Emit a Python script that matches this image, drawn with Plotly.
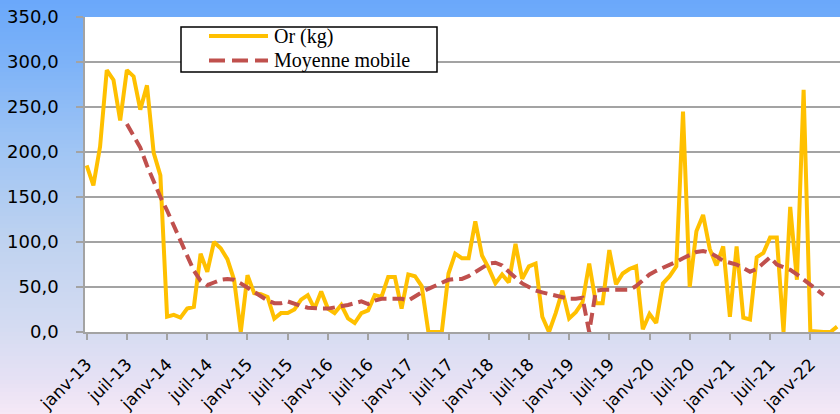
import plotly.graph_objects as go

# ---------------- data ----------------
month_abbr = ["janv", "févr", "mars", "avr", "mai", "juin",
              "juil", "août", "sept", "oct", "nov", "déc"]
n_months = 113  # janv-13 .. mai-22
months = [f"{month_abbr[k % 12]}-{13 + k // 12:02d}" for k in range(n_months)]

or_kg = [185, 163, 206, 291, 280, 235, 291, 284, 247, 274, 199, 174,
         17, 19, 16, 26, 28, 87, 67, 100, 93, 81, 58, 0,
         63, 43, 42, 39, 15, 21, 21, 25, 36, 41, 26, 45,
         26, 21, 30, 15, 10, 21, 24, 41, 39, 61, 61, 26,
         64, 62, 51, 0, 0, 0, 65, 87, 82, 82, 123, 85,
         71, 54, 64, 55, 98, 59, 73, 76, 17, 0, 21, 46,
         15, 22, 33, 76, 32, 32, 91, 53, 65, 70, 73, 3,
         20, 10, 54, 62, 73, 245, 50, 112, 130, 92, 74, 95,
         17, 95, 16, 14, 83, 88, 105, 105, 0, 139, 58, 269,
         1, 0, 0, 0, 6]

moyenne_mobile = ([None] * 6 +
                  [231, 219, 205, 185, 166, 150, 135, 118, 101, 83, 68, 57,
                   52, 55, 58, 59, 58, 54, 49, 44, 39, 35, 32, 32, 34, 31,
                   29, 27, 26, 26, 26, 27, 28, 30, 32, 34, 31, 35, 37, 37,
                   38, 37, 35, 40, 44, 48, 51, 55, 58, 59, 59, 62, 67, 72,
                   76, 77, 74, 67, 61, 54, 50, 46, 44, 42, 40, 38, 37, 37,
                   38, 0, 46, 47, 47, 47, 47, 47, 51, 57, 64, 68, 71, 75,
                   78, 82, 86, 89, 90, 88, 84, 79, 77, 75, 71, 67, 70, 76,
                   83, 75, 72, 69, 64, 58, 52, 46, 41] +
                  [None] * 2)

series_names = ["Or (kg)", "Moyenne mobile"]
y_ticks = [0, 50, 100, 150, 200, 250, 300, 350]

x_idx = list(range(n_months))
tick_idx = x_idx[::6]
tick_txt = months[::6]

GOLD = "#FFC000"
RED = "#C0504D"
GRID = "#a3a3a3"

fig = go.Figure()
fig.add_trace(go.Scatter(x=x_idx, y=or_kg, mode="lines", name=series_names[0],
                         line=dict(color=GOLD, width=4), cliponaxis=False,
                         showlegend=False))
fig.add_trace(go.Scatter(x=x_idx, y=moyenne_mobile, mode="lines", name=series_names[1],
                         line=dict(color=RED, width=4, dash="12px,6px"),
                         connectgaps=False, cliponaxis=False, showlegend=False))

# ---------------- background gradient ----------------
W, H = 840, 414
L, R, T, B = 85, 0, 17, 82
plot_h = H - T - B
plot_w = W - L - R
stops = [(0, (106, 168, 250)), (60, (124, 178, 248)), (150, (160, 197, 244)),
         (240, (190, 210, 240)), (332, (214, 220, 242)), (380, (230, 225, 244)),
         (414, (246, 233, 246))]


def col_at(y):
    for (y0, c0), (y1, c1) in zip(stops[:-1], stops[1:]):
        if y0 <= y <= y1:
            t = (y - y0) / (y1 - y0)
            return "rgb(%d,%d,%d)" % tuple(round(a + (b - a) * t) for a, b in zip(c0, c1))
    return "rgb(%d,%d,%d)" % stops[-1][1]


def py(ypx):
    return (H - B - ypx) / plot_h


def px(xpx):
    return (xpx - L) / plot_w


shapes = []
step = 4
for y in range(0, H, step):
    shapes.append(dict(type="rect", xref="paper", yref="paper",
                       x0=px(-5), x1=px(W + 5), y0=py(y + step + 0.5), y1=py(y),
                       fillcolor=col_at(y + step / 2), line=dict(width=0), layer="below"))
shapes.append(dict(type="rect", xref="paper", yref="paper", x0=0, x1=1, y0=0, y1=1,
                   fillcolor="white", line=dict(width=0), layer="below"))

# legend box (drawn manually)
shapes.append(dict(type="rect", xref="paper", yref="paper",
                   x0=px(181), x1=px(437), y0=py(72), y1=py(27),
                   fillcolor="white", line=dict(color="black", width=1.5), layer="above"))
shapes.append(dict(type="line", xref="paper", yref="paper",
                   x0=px(209), x1=px(268), y0=py(36), y1=py(36),
                   line=dict(color=GOLD, width=4), layer="above"))
shapes.append(dict(type="line", xref="paper", yref="paper",
                   x0=px(209), x1=px(268), y0=py(60.5), y1=py(60.5),
                   line=dict(color=RED, width=4, dash="16px,7px"), layer="above"))

LEG_FONT = dict(family="Liberation Serif, Times New Roman, serif", size=20, color="black")
annotations = [
    dict(text=series_names[0], xref="paper", yref="paper", x=px(272), y=py(36),
         xanchor="left", yanchor="middle", showarrow=False, font=LEG_FONT),
    dict(text=series_names[1], xref="paper", yref="paper", x=px(272), y=py(60.5),
         xanchor="left", yanchor="middle", showarrow=False, font=LEG_FONT),
]

fig.update_layout(
    width=W, height=H,
    margin=dict(l=L, r=R, t=T, b=B, pad=0, autoexpand=False),
    paper_bgcolor="rgb(200,212,242)",
    plot_bgcolor="white",
    separators=", ",
    showlegend=False,
    shapes=shapes,
    annotations=annotations,
    xaxis=dict(range=[-0.25, 112.43], tickmode="array", tickvals=tick_idx,
               ticktext=tick_txt, tickangle=-45, ticks="outside", ticklen=6,
               tickcolor=GRID, tickwidth=1.5, showline=True, linecolor=GRID,
               linewidth=1.5, showgrid=False, zeroline=False, automargin=False,
               ticklabelstandoff=8,
               tickfont=dict(family="DejaVu Sans", size=17, color="black")),
    yaxis=dict(range=[0, 350], tickmode="array", tickvals=y_ticks,
               tickformat=".1f", ticks="outside", ticklen=7, tickcolor=GRID,
               tickwidth=1.5, showline=True, linecolor=GRID, linewidth=1.5,
               gridcolor=GRID, gridwidth=1.5, zeroline=False, automargin=False,
               ticklabelstandoff=14,
               tickfont=dict(family="DejaVu Sans", size=18, color="black")),
)

fig.write_html("out.html", config={"displayModeBar": False},
               post_script="document.body.style.margin='0';document.body.style.overflow='hidden';")
